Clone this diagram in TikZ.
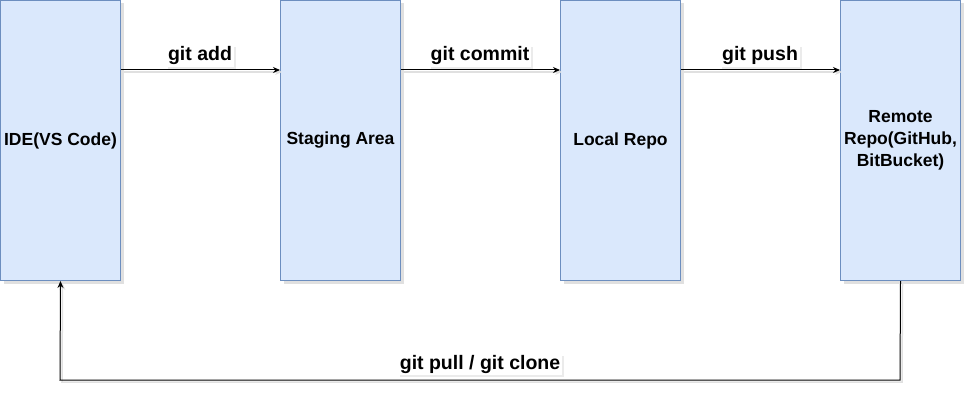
\documentclass[tikz,border=0pt]{standalone}
\usepackage{fontspec}
\setmainfont{Liberation Sans}
\usetikzlibrary{arrows.meta,shadows}
\definecolor{boxfill}{HTML}{DAE8FC}
\definecolor{boxline}{HTML}{6C8EBF}
\begin{document}
\begin{tikzpicture}[x=1pt,y=-1pt,
  stage/.style={draw=boxline, fill=boxfill, line width=1pt, minimum width=120pt, minimum height=280pt,
    inner sep=0pt, align=center, font=\fontsize{17.5}{22}\selectfont\bfseries, anchor=north west,
    drop shadow={shadow xshift=3pt, shadow yshift=-3pt, opacity=0.3, fill=black!40}},
  lbl/.style={fill=white, inner xsep=2pt, inner ysep=1.5pt, font=\fontsize{19.5}{22}\selectfont\bfseries,
    drop shadow={shadow xshift=2pt, shadow yshift=-2pt, opacity=0.2, fill=black!40}},
  conn/.style={draw=black, line width=1pt, -{Stealth[length=7pt,width=6pt]},
    preaction={draw=black!12, line width=1.5pt, transform canvas={shift={(2pt,-2pt)}}}}]
\useasboundingbox (0,0) rectangle (973,401);
\node[stage] (ide) at (0,0) {IDE(VS Code)};
\node[stage] (stage) at (280,0) {Staging Area};
\node[stage] (local) at (560,0) {Local Repo};
\node[stage] (remote) at (840,0) {Remote\\Repo(GitHub,\\BitBucket)};
\coordinate (c1) at (900,380);
\coordinate (c2) at (60,380);
\draw[conn] (ide.east |- 0,70) -- (stage.west |- 0,70);
\draw[conn] (stage.east |- 0,70) -- (local.west |- 0,70);
\draw[conn] (local.east |- 0,70) -- (remote.west |- 0,70);
\draw[conn] (remote.south) -- (c1) -- (c2) -- (ide.south);
\node[lbl] (ladd) at (200,56) {git add};
\node[lbl] (lcommit) at (480,56) {git commit};
\node[lbl] (lpush) at (760,56) {git push};
\node[lbl] (lpull) at (480,364.5) {git pull / git clone};
\end{tikzpicture}
\end{document}
